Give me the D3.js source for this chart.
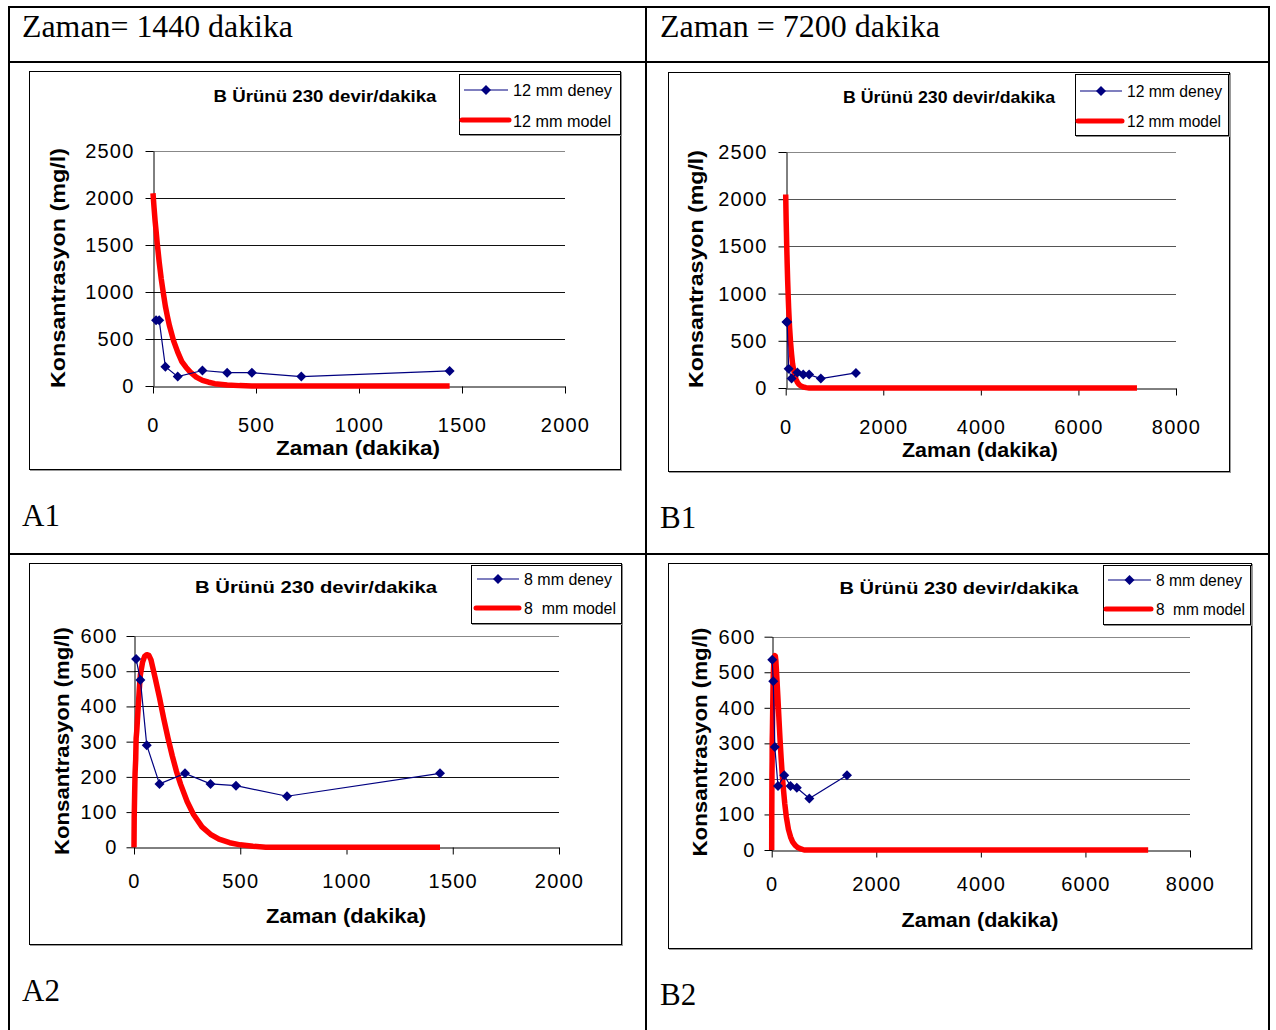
<!DOCTYPE html>
<html>
<head>
<meta charset="utf-8">
<script src="https://cdn.jsdelivr.net/npm/d3@7"></script>
<style>
  body { margin: 0; background: #fff; }
  svg { display: block; }
  text { font-family: "Liberation Sans", Arial, sans-serif; }
</style>
</head>
<body>
<svg id="fig" width="1276" height="1030"></svg>
<script>
// ---- measured series: 12 mm particles ----
const time12 = [15, 30, 60, 120, 240, 360, 480, 720, 1440];
const deney12 = [700, 700, 205, 100, 165, 142, 142, 100, 160];
const modelTime12 = [0, 5, 10, 15, 20, 30, 40, 50, 60, 70, 80, 100, 120, 140, 160, 180, 210, 240, 270, 300, 360, 420, 480, 600, 720, 1440, 7200];
const model12 = [2050, 1900, 1760, 1650, 1530, 1320, 1140, 990, 850, 740, 640, 480, 360, 260, 200, 150, 95, 60, 40, 25, 10, 4, 1, 0, 0, 0, 0];

// ---- measured series: 8 mm particles ----
const time8 = [10, 30, 60, 120, 240, 360, 480, 720, 1440];
const deney8 = [535, 475, 290, 180, 210, 180, 175, 145, 210];
const modelTime8 = [0, 1, 3, 5, 8, 10, 13, 16, 20, 25, 30, 40, 50, 60, 70, 80, 100, 120, 140, 160, 180, 200, 220, 250, 280, 320, 360, 400, 450, 500, 560, 620, 1440, 7200];
const model8 = [0, 85, 150, 210, 250, 310, 330, 360, 400, 450, 490, 525, 542, 547, 545, 532, 480, 425, 365, 310, 260, 215, 178, 130, 93, 58, 37, 23, 13, 7, 3, 0, 0, 0];

// ---- axis ticks ----
const xTicks1440 = [0, 500, 1000, 1500, 2000];
const xTicks7200 = [0, 2000, 4000, 6000, 8000];
const yTicks12 = [0, 500, 1000, 1500, 2000, 2500];
const yTicks8 = [0, 100, 200, 300, 400, 500, 600];

// ---- labels ----
const chartTitle = "B Ürünü 230 devir/dakika";
const xTitle = "Zaman (dakika)";
const yTitle = "Konsantrasyon (mg/l)";
const headers = ["Zaman= 1440 dakika", "Zaman = 7200 dakika"];
const panelNames = ["A1", "B1", "A2", "B2"];

const svg = d3.select("#fig");
svg.append("rect").attr("width", 1276).attr("height", 1030).attr("fill", "#fff");

// ---- surrounding table ----
const tbl = svg.append("g").attr("stroke", "#000").attr("stroke-width", 2).attr("fill", "none");
tbl.append("path").attr("d", "M9,1032 V7 H1269 V1032");
tbl.append("line").attr("x1", 9).attr("x2", 1269).attr("y1", 62).attr("y2", 62);
tbl.append("line").attr("x1", 9).attr("x2", 1269).attr("y1", 554).attr("y2", 554);
tbl.append("line").attr("x1", 646).attr("x2", 646).attr("y1", 7).attr("y2", 1032);

const serif = "'Liberation Serif', 'Times New Roman', serif";
[[22, 37, 271], [660, 37, 280]].forEach(([x, y, w], i) => {
  svg.append("text").attr("x", x).attr("y", y).text(headers[i])
    .attr("textLength", w).attr("lengthAdjust", "spacingAndGlyphs")
    .style("font-family", serif).style("font-size", "31px").attr("fill", "#000");
});
[[22, 526], [660, 528], [22, 1001], [660, 1005]].forEach(([x, y], i) => {
  svg.append("text").attr("x", x).attr("y", y).text(panelNames[i])
    .style("font-family", serif).style("font-size", "31px").attr("fill", "#000");
});

// ---- chart panels ----
const charts = [
  { frame: [29, 71, 591, 398], px: [153, 565], py: [386, 151], xMax: 2000, yMax: 2500, tEnd: 1440,
    xTicks: xTicks1440, yTicks: yTicks12, grid: "#111", xPad: 24, yPad: 11,
    t: time12, d: deney12, mt: modelTime12, mv: model12,
    title: [325, 102, 223], xt: [358, 455, 164], yt: [65, 268, 240],
    legend: { box: [459, 74, 161, 60], l1: [464, 508, 90], l2: [462, 509, 120], tx: 513, b1: 96, b2: 127, w1: 99, w2: 98,
      s1: "12 mm deney", s2: "12 mm model" } },
  { frame: [668, 72, 561, 399], px: [785.7, 1176], py: [388, 152], xMax: 8000, yMax: 2500, tEnd: 7200,
    xTicks: xTicks7200, yTicks: yTicks12, grid: "#555", xPad: 24, yPad: 11,
    t: time12, d: deney12, mt: modelTime12, mv: model12,
    title: [949, 103, 212], xt: [980, 457, 156], yt: [703, 269, 238],
    legend: { box: [1075, 74, 153, 61], l1: [1080, 1122, 91], l2: [1078, 1122, 121], tx: 1127, b1: 97, b2: 127, w1: 95, w2: 94,
      s1: "12 mm deney", s2: "12 mm model" } },
  { frame: [29, 563, 592, 381], px: [134, 559], py: [847.3, 636], xMax: 2000, yMax: 600, tEnd: 1440,
    xTicks: xTicks1440, yTicks: yTicks8, grid: "#111", xPad: 19, yPad: 9,
    t: time8, d: deney8, mt: modelTime8, mv: model8,
    title: [316, 593, 242], xt: [346, 923, 160], yt: [69, 741, 228],
    legend: { box: [471, 565, 150, 58], l1: [477, 519, 579], l2: [476, 519, 608], tx: 524, b1: 585, b2: 614, w1: 88, w2: 92,
      s1: "8 mm deney", s2: "8  mm model" } },
  { frame: [668, 563, 583, 385], px: [771.7, 1190], py: [850, 636.7], xMax: 8000, yMax: 600, tEnd: 7200,
    xTicks: xTicks7200, yTicks: yTicks8, grid: "#555", xPad: 19, yPad: 9,
    t: time8, d: deney8, mt: modelTime8, mv: model8,
    title: [959, 594, 239], xt: [980, 927, 157], yt: [707, 742, 229],
    legend: { box: [1103, 565, 147, 59], l1: [1108, 1151, 580], l2: [1106, 1151, 609], tx: 1156, b1: 586, b2: 615, w1: 86, w2: 89,
      s1: "8 mm deney", s2: "8  mm model" } }
];

const navy = "#000080";
const red = "#ff0000";
const diamond = d3.symbol(d3.symbolSquare, 50);

function stretchedText(g, x, y, str, len, size, weight, anchor, rotate) {
  const t = g.append("text")
    .attr("x", x).attr("y", y).text(str)
    .attr("textLength", len).attr("lengthAdjust", "spacingAndGlyphs")
    .attr("text-anchor", anchor)
    .style("font-size", size + "px").style("font-weight", weight).attr("fill", "#000");
  if (rotate) t.attr("transform", `rotate(-90,${x},${y})`);
  return t;
}

charts.forEach(c => {
  const g = svg.append("g");
  const [fx, fy, fw, fh] = c.frame;
  g.append("rect").attr("x", fx + 1.5).attr("y", fy + 1.5).attr("width", fw).attr("height", fh)
    .attr("fill", "none").attr("stroke", "#999").attr("stroke-width", 1);
  g.append("rect").attr("x", fx + 0.5).attr("y", fy + 0.5).attr("width", fw).attr("height", fh)
    .attr("fill", "#fff").attr("stroke", "#000").attr("stroke-width", 1);

  const x = d3.scaleLinear().domain([0, c.xMax]).range(c.px);
  const y = d3.scaleLinear().domain([0, c.yMax]).range(c.py);

  // horizontal gridlines
  g.append("g").selectAll("line").data(c.yTicks.filter(v => v > 0)).join("line")
    .attr("x1", c.px[0]).attr("x2", c.px[1])
    .attr("y1", v => Math.round(y(v)) + 0.5).attr("y2", v => Math.round(y(v)) + 0.5)
    .attr("stroke", v => v === c.yMax ? "#888" : c.grid).attr("stroke-width", 1);

  const xAxis = g.append("g").attr("transform", `translate(0,${Math.round(c.py[0]) + 0.5})`)
    .call(d3.axisBottom(x).tickValues(c.xTicks).tickSize(7).tickSizeOuter(0)
      .tickPadding(c.xPad).tickFormat(d3.format("d")));
  const yAxis = g.append("g").attr("transform", `translate(${Math.round(c.px[0]) + 0.5},0)`)
    .call(d3.axisLeft(y).tickValues(c.yTicks).tickSize(8).tickSizeOuter(0)
      .tickPadding(c.yPad).tickFormat(d3.format("d")));
  [xAxis, yAxis].forEach(a => {
    a.select(".domain").attr("stroke", "#000");
    a.selectAll(".tick line").attr("stroke", "#000");
    a.selectAll(".tick text").style("font-size", "20px").style("letter-spacing", "1.2px")
      .style("font-family", "'Liberation Sans', Arial, sans-serif").attr("fill", "#000");
  });

  // model curve
  const modelPts = c.mt.map((t, i) => [t, c.mv[i]]).filter(p => p[0] <= c.tEnd);
  const line = d3.line().x(p => x(p[0])).y(p => y(p[1]));
  g.append("path").datum(modelPts).attr("d", line)
    .attr("fill", "none").attr("stroke", red).attr("stroke-width", 5.5)
    .attr("stroke-linejoin", "round");

  // measured points
  const expPts = c.t.map((t, i) => [t, c.d[i]]);
  g.append("path").datum(expPts).attr("d", line)
    .attr("fill", "none").attr("stroke", navy).attr("stroke-width", 1.2);
  g.append("g").selectAll("path").data(expPts).join("path")
    .attr("d", diamond)
    .attr("transform", p => `translate(${x(p[0])},${y(p[1])}) rotate(45)`)
    .attr("fill", navy);

  // titles
  stretchedText(g, c.title[0], c.title[1], chartTitle, c.title[2], 17, "bold", "middle");
  stretchedText(g, c.xt[0], c.xt[1], xTitle, c.xt[2], 21, "bold", "middle");
  stretchedText(g, c.yt[0], c.yt[1], yTitle, c.yt[2], 21, "bold", "middle", true);

  // legend
  const L = c.legend;
  const [lx, ly, lw, lh] = L.box;
  g.append("rect").attr("x", lx + 1.5).attr("y", ly + 1.5).attr("width", lw).attr("height", lh)
    .attr("fill", "none").attr("stroke", "#888");
  g.append("rect").attr("x", lx + 0.5).attr("y", ly + 0.5).attr("width", lw).attr("height", lh)
    .attr("fill", "#fff").attr("stroke", "#000");
  g.append("line").attr("x1", L.l1[0]).attr("x2", L.l1[1]).attr("y1", L.l1[2]).attr("y2", L.l1[2])
    .attr("stroke", navy).attr("stroke-width", 1.2);
  g.append("path").attr("d", diamond)
    .attr("transform", `translate(${(L.l1[0] + L.l1[1]) / 2},${L.l1[2]}) rotate(45)`).attr("fill", navy);
  g.append("line").attr("x1", L.l2[0]).attr("x2", L.l2[1]).attr("y1", L.l2[2]).attr("y2", L.l2[2])
    .attr("stroke", red).attr("stroke-width", 5).attr("stroke-linecap", "round");
  stretchedText(g, L.tx, L.b1, L.s1, L.w1, 16, "normal", "start").style("white-space", "pre");
  stretchedText(g, L.tx, L.b2, L.s2, L.w2, 16, "normal", "start").style("white-space", "pre");
});
</script>
</body>
</html>
